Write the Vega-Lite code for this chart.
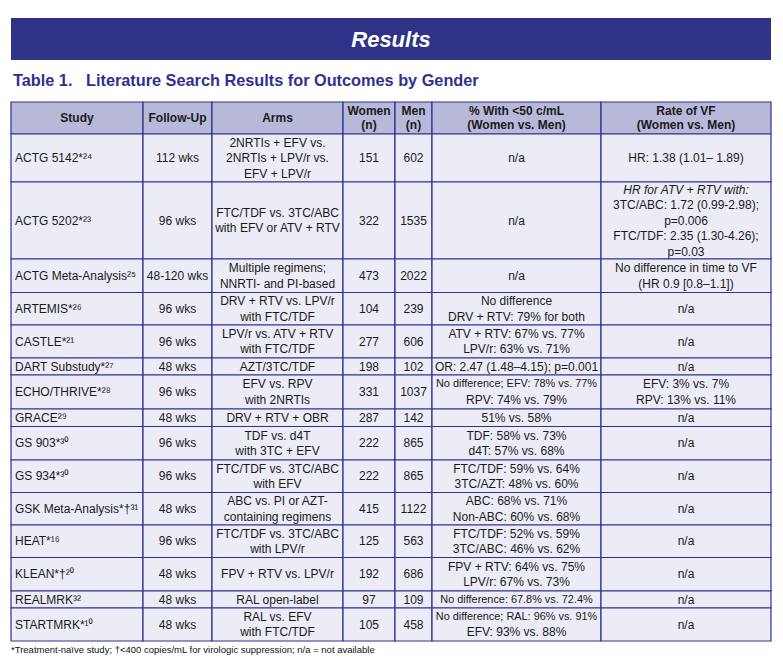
{
  "$schema": "https://vega.github.io/schema/vega-lite/v6.json",
  "width": 783,
  "height": 672,
  "padding": 0,
  "autosize": {"type": "none"},
  "background": "white",
  "config": {"view": {"stroke": null}},
  "datasets": {
    "cols": [
      {"col": "Study", "x0": 11, "x1": 143},
      {"col": "FollowUp", "x0": 143, "x1": 212},
      {"col": "Arms", "x0": 212, "x1": 343},
      {"col": "Women", "x0": 343, "x1": 395},
      {"col": "Men", "x0": 395, "x1": 432},
      {"col": "Pct", "x0": 432, "x1": 601},
      {"col": "VF", "x0": 601, "x1": 771}
    ],
    "rows": [
      {"r": 0, "y0": 102, "y1": 134},
      {"r": 1, "y0": 134, "y1": 182},
      {"r": 2, "y0": 182, "y1": 259},
      {"r": 3, "y0": 259, "y1": 292.5},
      {"r": 4, "y0": 292.5, "y1": 325},
      {"r": 5, "y0": 325, "y1": 358},
      {"r": 6, "y0": 358, "y1": 375},
      {"r": 7, "y0": 375, "y1": 409},
      {"r": 8, "y0": 409, "y1": 426.5},
      {"r": 9, "y0": 426.5, "y1": 460},
      {"r": 10, "y0": 460, "y1": 492.5},
      {"r": 11, "y0": 492.5, "y1": 525},
      {"r": 12, "y0": 525, "y1": 557.5},
      {"r": 13, "y0": 557.5, "y1": 591},
      {"r": 14, "y0": 591, "y1": 608},
      {"r": 15, "y0": 608, "y1": 641}
    ],
    "frame": [
      {"part": "banner", "x0": 11, "x1": 771, "y0": 18, "y1": 60, "xt": 391, "yt": 40, "label": "Results"},
      {"part": "title", "x0": 13, "x1": 13, "y0": 81, "y1": 81, "xt": 13, "yt": 81, "label": "Table 1.\u00a0\u00a0 Literature Search Results for Outcomes by Gender"},
      {"part": "note", "x0": 11, "x1": 11, "y0": 650, "y1": 650, "xt": 11, "yt": 650, "label": "*Treatment-naïve study; †<400 copies/mL for virologic suppression; n/a = not available"}
    ],
    "header": [
      {"row": 0, "Study": "Study", "FollowUp": "Follow-Up", "Arms": "Arms", "Women": ["Women", "(n)"], "Men": ["Men", "(n)"], "Pct": ["% With <50 c/mL", "(Women vs. Men)"], "VF": ["Rate of VF", "(Women vs. Men)"]}
    ],
    "table": [
      {"row": 1, "Study": "ACTG 5142*²⁴", "FollowUp": "112 wks", "Arms": ["2NRTIs + EFV vs.", "2NRTIs + LPV/r vs.", "EFV + LPV/r"], "Women": 151, "Men": 602, "Pct": "n/a", "VF": "HR: 1.38 (1.01– 1.89)"},
      {"row": 2, "Study": "ACTG 5202*²³", "FollowUp": "96 wks", "Arms": ["FTC/TDF vs. 3TC/ABC", "with EFV or ATV + RTV"], "Women": 322, "Men": 1535, "Pct": "n/a", "VF": ["HR for ATV + RTV with:", "3TC/ABC: 1.72 (0.99-2.98);", "p=0.006", "FTC/TDF: 2.35 (1.30-4.26);", "p=0.03"]},
      {"row": 3, "Study": "ACTG Meta-Analysis²⁵", "FollowUp": "48-120 wks", "Arms": ["Multiple regimens;", "NNRTI- and PI-based"], "Women": 473, "Men": 2022, "Pct": "n/a", "VF": ["No difference in time to VF", "(HR 0.9 [0.8–1.1])"]},
      {"row": 4, "Study": "ARTEMIS*²⁶", "FollowUp": "96 wks", "Arms": ["DRV + RTV vs. LPV/r", "with FTC/TDF"], "Women": 104, "Men": 239, "Pct": ["No difference", "DRV + RTV: 79% for both"], "VF": "n/a"},
      {"row": 5, "Study": "CASTLE*²¹", "FollowUp": "96 wks", "Arms": ["LPV/r  vs. ATV + RTV", "with FTC/TDF"], "Women": 277, "Men": 606, "Pct": ["ATV + RTV: 67% vs. 77%", "LPV/r: 63% vs. 71%"], "VF": "n/a"},
      {"row": 6, "Study": "DART Substudy*²⁷", "FollowUp": "48 wks", "Arms": "AZT/3TC/TDF", "Women": 198, "Men": 102, "Pct": "OR: 2.47 (1.48–4.15); p=0.001", "VF": "n/a"},
      {"row": 7, "Study": "ECHO/THRIVE*²⁸", "FollowUp": "96 wks", "Arms": ["EFV vs. RPV", "with 2NRTIs"], "Women": 331, "Men": 1037, "Pct": ["No difference; EFV: 78% vs. 77%", "RPV: 74% vs. 79%"], "VF": ["EFV: 3% vs. 7%", "RPV: 13% vs. 11%"]},
      {"row": 8, "Study": "GRACE²⁹", "FollowUp": "48 wks", "Arms": "DRV + RTV + OBR", "Women": 287, "Men": 142, "Pct": "51% vs. 58%", "VF": "n/a"},
      {"row": 9, "Study": "GS 903*³⁰", "FollowUp": "96 wks", "Arms": ["TDF vs. d4T", "with 3TC + EFV"], "Women": 222, "Men": 865, "Pct": ["TDF: 58% vs. 73%", "d4T: 57% vs. 68%"], "VF": "n/a"},
      {"row": 10, "Study": "GS 934*³⁰", "FollowUp": "96 wks", "Arms": ["FTC/TDF vs. 3TC/ABC", "with EFV"], "Women": 222, "Men": 865, "Pct": ["FTC/TDF: 59% vs. 64%", "3TC/AZT: 48% vs. 60%"], "VF": "n/a"},
      {"row": 11, "Study": "GSK Meta-Analysis*†³¹", "FollowUp": "48 wks", "Arms": ["ABC vs. PI or AZT-", "containing regimens"], "Women": 415, "Men": 1122, "Pct": ["ABC: 68% vs. 71%", "Non-ABC:  60% vs. 68%"], "VF": "n/a"},
      {"row": 12, "Study": "HEAT*¹⁶", "FollowUp": "96 wks", "Arms": ["FTC/TDF vs. 3TC/ABC", "with LPV/r"], "Women": 125, "Men": 563, "Pct": ["FTC/TDF: 52% vs. 59%", "3TC/ABC: 46% vs. 62%"], "VF": "n/a"},
      {"row": 13, "Study": "KLEAN*†²⁰", "FollowUp": "48 wks", "Arms": "FPV + RTV vs. LPV/r", "Women": 192, "Men": 686, "Pct": ["FPV + RTV: 64% vs. 75%", "LPV/r: 67% vs. 73%"], "VF": "n/a"},
      {"row": 14, "Study": "REALMRK³²", "FollowUp": "48 wks", "Arms": "RAL open-label", "Women": 97, "Men": 109, "Pct": "No difference: 67.8% vs. 72.4%", "VF": "n/a"},
      {"row": 15, "Study": "STARTMRK*¹⁰", "FollowUp": "48 wks", "Arms": ["RAL vs. EFV", "with FTC/TDF"], "Women": 105, "Men": 458, "Pct": ["No difference; RAL: 96% vs. 91%", "EFV: 93% vs. 88%"], "VF": "n/a"}
    ]
  },
  "layer": [
    {
      "data": {"name": "frame"},
      "transform": [{"filter": "datum.part == 'banner'"}],
      "mark": {"type": "rect", "fill": "#2E3388"},
      "encoding": {
        "x": {"field": "x0", "type": "quantitative", "scale": {"domain": [0, 783], "nice": false, "zero": false}, "axis": null},
        "x2": {"field": "x1"},
        "y": {"field": "y0", "type": "quantitative", "scale": {"domain": [0, 672], "reverse": true, "nice": false, "zero": false}, "axis": null},
        "y2": {"field": "y1"}
      }
    },
    {
      "data": {"name": "frame"},
      "transform": [{"filter": "datum.part == 'banner'"}],
      "mark": {"type": "text", "font": "Liberation Sans, Arial, sans-serif", "fontSize": 22, "fontWeight": "bold", "fontStyle": "italic", "color": "white", "align": "center", "baseline": "middle"},
      "encoding": {
        "x": {"field": "xt", "type": "quantitative"},
        "y": {"field": "yt", "type": "quantitative"},
        "text": {"field": "label"}
      }
    },
    {
      "data": {"name": "frame"},
      "transform": [{"filter": "datum.part == 'title'"}],
      "mark": {"type": "text", "font": "Liberation Sans, Arial, sans-serif", "fontSize": 16.3, "fontWeight": "bold", "color": "#2E3192", "align": "left", "baseline": "middle"},
      "encoding": {
        "x": {"field": "xt", "type": "quantitative"},
        "y": {"field": "yt", "type": "quantitative"},
        "text": {"field": "label"}
      }
    },
    {
      "data": {"name": "frame"},
      "transform": [{"filter": "datum.part == 'note'"}],
      "mark": {"type": "text", "font": "Liberation Sans, Arial, sans-serif", "fontSize": 9.5, "color": "#111111", "align": "left", "baseline": "middle"},
      "encoding": {
        "x": {"field": "xt", "type": "quantitative"},
        "y": {"field": "yt", "type": "quantitative"},
        "text": {"field": "label"}
      }
    },
    {
      "data": {"name": "header"},
      "transform": [
        {"fold": ["Study", "FollowUp", "Arms", "Women", "Men", "Pct", "VF"], "as": ["key", "value"]},
        {"lookup": "key", "from": {"data": {"name": "cols"}, "key": "col", "fields": ["x0", "x1"]}},
        {"lookup": "row", "from": {"data": {"name": "rows"}, "key": "r", "fields": ["y0", "y1"]}}
      ],
      "mark": {"type": "rect", "fill": "#B8B8D9", "stroke": "#2E3192", "strokeWidth": 1.2},
      "encoding": {
        "x": {"field": "x0", "type": "quantitative"},
        "x2": {"field": "x1"},
        "y": {"field": "y0", "type": "quantitative"},
        "y2": {"field": "y1"}
      }
    },
    {
      "data": {"name": "table"},
      "transform": [
        {"fold": ["Study", "FollowUp", "Arms", "Women", "Men", "Pct", "VF"], "as": ["key", "value"]},
        {"lookup": "key", "from": {"data": {"name": "cols"}, "key": "col", "fields": ["x0", "x1"]}},
        {"lookup": "row", "from": {"data": {"name": "rows"}, "key": "r", "fields": ["y0", "y1"]}}
      ],
      "mark": {"type": "rect", "fill": "#ECECF6", "stroke": "#2E3192", "strokeWidth": 1.2},
      "encoding": {
        "x": {"field": "x0", "type": "quantitative"},
        "x2": {"field": "x1"},
        "y": {"field": "y0", "type": "quantitative"},
        "y2": {"field": "y1"}
      }
    },
    {
      "data": {"name": "header"},
      "transform": [
        {"fold": ["Study", "FollowUp", "Arms", "Women", "Men", "Pct", "VF"], "as": ["key", "value"]},
        {"lookup": "key", "from": {"data": {"name": "cols"}, "key": "col", "fields": ["x0", "x1"]}},
        {"lookup": "row", "from": {"data": {"name": "rows"}, "key": "r", "fields": ["y0", "y1"]}},
        {"calculate": "(datum.x0 + datum.x1) / 2", "as": "xm"},
        {"calculate": "(datum.y0 + datum.y1) / 2 - ((isArray(datum.value) ? length(datum.value) : 1) - 1) * 14.5 / 2", "as": "ym"}
      ],
      "mark": {"type": "text", "font": "Liberation Sans, Arial, sans-serif", "fontSize": 12, "fontWeight": "bold", "color": "#1A1A1A", "align": "center", "baseline": "middle", "lineHeight": 14.5},
      "encoding": {
        "x": {"field": "xm", "type": "quantitative"},
        "y": {"field": "ym", "type": "quantitative"},
        "text": {"field": "value"}
      }
    },
    {
      "data": {"name": "table"},
      "transform": [
        {"fold": ["Study"], "as": ["key", "value"]},
        {"lookup": "key", "from": {"data": {"name": "cols"}, "key": "col", "fields": ["x0", "x1"]}},
        {"lookup": "row", "from": {"data": {"name": "rows"}, "key": "r", "fields": ["y0", "y1"]}},
        {"calculate": "(datum.y0 + datum.y1) / 2", "as": "ym"}
      ],
      "mark": {"type": "text", "font": "Liberation Sans, Noto Sans, Arial, sans-serif", "fontSize": 12, "color": "#1A1A1A", "align": "left", "baseline": "middle", "dx": 4},
      "encoding": {
        "x": {"field": "x0", "type": "quantitative"},
        "y": {"field": "ym", "type": "quantitative"},
        "text": {"field": "value"}
      }
    },
    {
      "data": {"name": "table"},
      "transform": [
        {"fold": ["FollowUp", "Arms", "Women", "Men", "Pct", "VF"], "as": ["key", "value"]},
        {"filter": "!(datum.key == 'Pct' && datum.row == 14)"},
        {"lookup": "key", "from": {"data": {"name": "cols"}, "key": "col", "fields": ["x0", "x1"]}},
        {"lookup": "row", "from": {"data": {"name": "rows"}, "key": "r", "fields": ["y0", "y1"]}},
        {"calculate": "(datum.x0 + datum.x1) / 2", "as": "xm"},
        {"calculate": "(datum.y0 + datum.y1) / 2 - ((isArray(datum.value) ? length(datum.value) : 1) - 1) * 15.5 / 2", "as": "ym"},
        {"calculate": "(datum.row == 2 && datum.key == 'VF') ? ['', datum.value[1], datum.value[2], datum.value[3], datum.value[4]] : ((datum.key == 'Pct' && (datum.row == 7 || datum.row == 15)) ? ['', datum.value[1]] : datum.value)", "as": "t"}
      ],
      "mark": {"type": "text", "font": "Liberation Sans, Arial, sans-serif", "fontSize": 12, "color": "#1A1A1A", "align": "center", "baseline": "middle", "lineHeight": 15.5},
      "encoding": {
        "x": {"field": "xm", "type": "quantitative"},
        "y": {"field": "ym", "type": "quantitative"},
        "text": {"field": "t"}
      }
    },
    {
      "data": {"name": "table"},
      "transform": [
        {"fold": ["Pct"], "as": ["key", "value"]},
        {"filter": "datum.row == 7 || datum.row == 14 || datum.row == 15"},
        {"lookup": "key", "from": {"data": {"name": "cols"}, "key": "col", "fields": ["x0", "x1"]}},
        {"lookup": "row", "from": {"data": {"name": "rows"}, "key": "r", "fields": ["y0", "y1"]}},
        {"calculate": "(datum.x0 + datum.x1) / 2", "as": "xm"},
        {"calculate": "(datum.y0 + datum.y1) / 2 - ((isArray(datum.value) ? length(datum.value) : 1) - 1) * 15.5 / 2", "as": "ym"},
        {"calculate": "isArray(datum.value) ? [datum.value[0], ''] : datum.value", "as": "t"}
      ],
      "mark": {"type": "text", "font": "Liberation Sans, Arial, sans-serif", "fontSize": 10.9, "color": "#1A1A1A", "align": "center", "baseline": "middle", "lineHeight": 15.5},
      "encoding": {
        "x": {"field": "xm", "type": "quantitative"},
        "y": {"field": "ym", "type": "quantitative"},
        "text": {"field": "t"}
      }
    },
    {
      "data": {"name": "table"},
      "transform": [
        {"fold": ["VF"], "as": ["key", "value"]},
        {"filter": "datum.row == 2"},
        {"lookup": "key", "from": {"data": {"name": "cols"}, "key": "col", "fields": ["x0", "x1"]}},
        {"lookup": "row", "from": {"data": {"name": "rows"}, "key": "r", "fields": ["y0", "y1"]}},
        {"calculate": "(datum.x0 + datum.x1) / 2", "as": "xm"},
        {"calculate": "(datum.y0 + datum.y1) / 2 - 2 * 15.5", "as": "ym"},
        {"calculate": "[datum.value[0], '', '', '', '']", "as": "t"}
      ],
      "mark": {"type": "text", "font": "Liberation Sans, Arial, sans-serif", "fontSize": 12, "fontStyle": "italic", "color": "#1A1A1A", "align": "center", "baseline": "middle", "lineHeight": 15.5},
      "encoding": {
        "x": {"field": "xm", "type": "quantitative"},
        "y": {"field": "ym", "type": "quantitative"},
        "text": {"field": "t"}
      }
    }
  ]
}
